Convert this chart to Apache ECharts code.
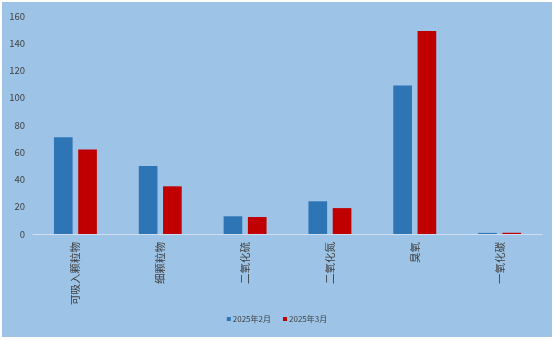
<!DOCTYPE html>
<html>
<head>
<meta charset="utf-8">
<script src="https://cdn.jsdelivr.net/npm/echarts@6/dist/echarts.min.js"></script>
<style>
html,body{margin:0;padding:0;background:#fff;width:555px;height:341px;overflow:hidden;}
#c{position:absolute;left:2px;top:2px;width:550px;height:335px;background:#9DC3E6;border:0;}
</style>
</head>
<body>
<div id="c"></div>
<script>
var categories = ['可吸入颗粒物','细颗粒物','二氧化硫','二氧化氮','臭氧','一氧化碳'];
var seriesNames = ['2025年2月','2025年3月'];
var febValues = [71, 50, 13, 24, 109, 0.8];
var marValues = [62, 35, 12.5, 19, 149, 0.9];
var yTicks = {min:0, max:160, interval:20};

var chart = echarts.init(document.getElementById('c'), null, {renderer:'canvas'});
var font = "'Microsoft YaHei','Noto Sans CJK SC',sans-serif";
chart.setOption({
  backgroundColor:'#9DC3E6',
  animation:false,
  grid:{left:31,right:10,top:14,bottom:103,containLabel:false},
  legend:{
    data:seriesNames, bottom:9, left:'center',
    itemWidth:4, itemHeight:4, itemGap:12, icon:'rect',
    textStyle:{fontSize:8, color:'#404040', fontFamily:font, padding:[0,0,0,-3]}
  },
  xAxis:{
    type:'category', data:categories,
    axisLine:{lineStyle:{color:'#D0DEEE', width:1}},
    axisTick:{show:false},
    axisLabel:{rotate:90, fontSize:10.5, color:'#404040', fontFamily:font, margin:8, interval:0}
  },
  yAxis:{
    type:'value', min:yTicks.min, max:yTicks.max, interval:yTicks.interval,
    axisLine:{show:false}, axisTick:{show:false}, splitLine:{show:false},
    axisLabel:{fontSize:9.5, color:'#404040', fontFamily:font, margin:8}
  },
  series:[
    {name:seriesNames[0], type:'bar', data:febValues, barWidth:'22%', barGap:'30%',
     itemStyle:{color:'#2E75B6'}},
    {name:seriesNames[1], type:'bar', data:marValues, barWidth:'22%', barGap:'30%',
     itemStyle:{color:'#C00000'}}
  ]
});
</script>
</body>
</html>
